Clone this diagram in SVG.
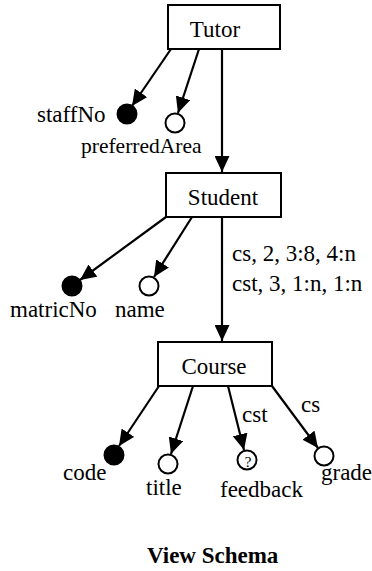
<svg xmlns="http://www.w3.org/2000/svg" width="372" height="571" viewBox="0 0 372 571" font-family="'Liberation Serif', 'Times New Roman', 'DejaVu Serif', serif">
<defs>
<marker id="ah" markerUnits="userSpaceOnUse" markerWidth="17" markerHeight="15" refX="16" refY="7.5" orient="auto" viewBox="0 0 17 15">
<path d="M0,0 L16,7.5 L0,15 Z" fill="#000"/>
</marker>
<style>
text{font-family:"Liberation Serif","Times New Roman","DejaVu Serif",serif;font-size:23px;fill:#000}
.box{fill:#fff;stroke:#000;stroke-width:2}
.edge{stroke:#000;stroke-width:2.2;fill:none;marker-end:url(#ah)}
.key{fill:#000;stroke:#000;stroke-width:2}
.att{fill:#fff;stroke:#000;stroke-width:2}
.c{text-anchor:middle}
</style>
</defs>
<g id="connectors">
<line class="edge" x1="171" y1="49" x2="132" y2="106"/>
<line class="edge" x1="199" y1="49" x2="178" y2="113"/>
<line class="edge" x1="222" y1="49" x2="222" y2="172"/>
<line class="edge" x1="166" y1="217" x2="80" y2="280"/>
<line class="edge" x1="192" y1="217" x2="154" y2="277"/>
<line class="edge" x1="222" y1="217" x2="222" y2="341"/>
<line class="edge" x1="159" y1="386" x2="119" y2="446"/>
<line class="edge" x1="193" y1="386" x2="171" y2="454"/>
<line class="edge" x1="228" y1="386" x2="244" y2="450"/>
<line class="edge" x1="272" y1="386" x2="318" y2="448"/>
</g>
<g id="tutor">
<rect class="box" x="168" y="5" width="112" height="44"/>
<text class="c" x="215" y="37">Tutor</text>
</g>
<g id="staffNo">
<circle class="key" cx="127" cy="114" r="9.5"/>
<text x="37" y="122">staffNo</text>
</g>
<g id="preferredArea">
<circle class="att" cx="175" cy="123" r="9.5"/>
<text x="81" y="153" style="font-size:21.5px">preferredArea</text>
</g>
<g id="student">
<rect class="box" x="166" y="173" width="115" height="44"/>
<text class="c" x="223" y="205">Student</text>
</g>
<g id="edge-labels">
<text x="232" y="261">cs, 2, 3:8, 4:n</text>
<text x="232" y="291">cst, 3, 1:n, 1:n</text>
</g>
<g id="matricNo">
<circle class="key" cx="72" cy="286" r="9.5"/>
<text x="10" y="317">matricNo</text>
</g>
<g id="name">
<circle class="att" cx="149" cy="286" r="9.5"/>
<text x="115" y="317">name</text>
</g>
<g id="course">
<rect class="box" x="158" y="342" width="114" height="44"/>
<text class="c" x="214" y="374">Course</text>
</g>
<g id="code">
<circle class="key" cx="114" cy="455" r="9.5"/>
<text x="63" y="480">code</text>
</g>
<g id="title">
<circle class="att" cx="168" cy="464" r="9.5"/>
<text x="146" y="495">title</text>
</g>
<g id="feedback">
<circle class="att" cx="247" cy="460" r="9.5"/>
<text class="c" x="248" y="467" style="font-size:15px">?</text>
<text x="220" y="497">feedback</text>
<text x="242" y="422">cst</text>
</g>
<g id="grade">
<circle class="att" cx="324" cy="456" r="9.5"/>
<text x="321" y="480">grade</text>
<text x="301" y="412">cs</text>
</g>
<text x="147" y="563" style="font-weight:bold">View Schema</text>
</svg>
